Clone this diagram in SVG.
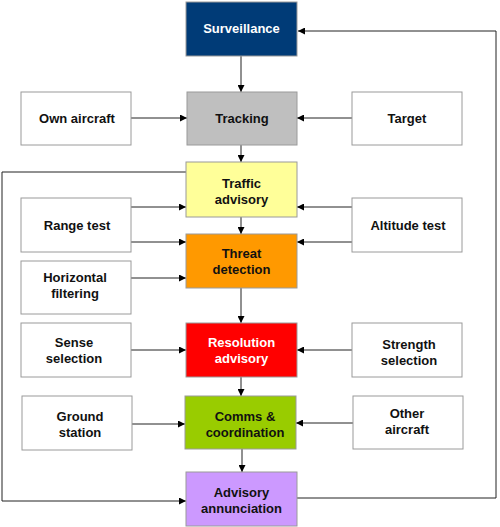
<svg xmlns="http://www.w3.org/2000/svg" width="500" height="527" viewBox="0 0 500 527">
<defs>
<marker id="ah" viewBox="0 0 10 10" refX="10" refY="5" markerWidth="7" markerHeight="7" markerUnits="userSpaceOnUse" orient="auto">
<path d="M0,0 L10,5 L0,10 z" fill="#000"/>
</marker>
<style>
.box{stroke:#9a9a9a;stroke-width:1}
.wb{fill:#fff}
.t{font-family:"Liberation Sans",Arial,sans-serif;font-weight:bold;font-size:13px;text-anchor:middle;fill:#111}
.w{fill:#fff}
.c{fill:none;stroke:#222;stroke-width:1;marker-end:url(#ah)}
.l{fill:none;stroke:#222;stroke-width:1}
</style>
</defs>
<rect width="500" height="527" fill="#fff"/>
<g id="connectors">
<path class="c" d="M241,56 V92"/>
<path class="c" d="M241,145 V162"/>
<path class="c" d="M131,118 H187"/>
<path class="c" d="M352,118 H297"/>
<path class="c" d="M131,207 H186"/>
<path class="c" d="M131,242 H186"/>
<path class="c" d="M352,207 H297"/>
<path class="c" d="M352,242 H297"/>
<path class="c" d="M241,217 V234"/>
<path class="c" d="M131,278 H186"/>
<path class="c" d="M241,288 V323"/>
<path class="c" d="M131,350 H186"/>
<path class="c" d="M352,350 H297"/>
<path class="c" d="M241,377 V396"/>
<path class="c" d="M132,424 H185"/>
<path class="c" d="M353,423 H296"/>
<path class="c" d="M242,449 V472"/>
<path class="c" d="M297,498 H496 V31 H298"/>
<path class="c" d="M186,172 H2 V501 H186"/>
</g>
<g id="surveillance"><rect class="box" x="186" y="2" width="111" height="54" fill="#003B77" stroke="#2a4f80"/><text class="t w" x="241.5" y="33">Surveillance</text></g>
<g id="tracking"><rect class="box" x="187" y="92" width="110" height="53" fill="#BFBFBF" stroke="#cfcfcf"/><text class="t" x="242" y="123">Tracking</text></g>
<g id="own-aircraft"><rect class="box wb" x="21" y="92" width="110" height="53"/><text class="t" x="77" y="123">Own aircraft</text></g>
<g id="target"><rect class="box wb" x="352" y="92" width="110" height="53"/><text class="t" x="407" y="123">Target</text></g>
<g id="traffic-advisory"><rect class="box" x="186" y="162" width="111" height="55" fill="#FFFF99" stroke="#f0f0a0"/><text class="t" x="241.5" y="188">Traffic</text><text class="t" x="241.5" y="204">advisory</text></g>
<g id="range-test"><rect class="box wb" x="21" y="198" width="110" height="54"/><text class="t" x="77" y="230">Range test</text></g>
<g id="altitude-test"><rect class="box wb" x="352" y="198" width="110" height="54"/><text class="t" x="408" y="230">Altitude test</text></g>
<g id="threat-detection"><rect class="box" x="186" y="234" width="111" height="54" fill="#FF9900" stroke="#f5b050"/><text class="t" x="241.5" y="258">Threat</text><text class="t" x="241.5" y="274">detection</text></g>
<g id="horizontal-filtering"><rect class="box wb" x="21" y="261" width="110" height="53"/><text class="t" x="75" y="282">Horizontal</text><text class="t" x="75" y="298">filtering</text></g>
<g id="resolution-advisory"><rect class="box" x="186" y="323" width="111" height="54" fill="#FF0000" stroke="#f05050"/><text class="t w" x="241.5" y="347">Resolution</text><text class="t w" x="241.5" y="363">advisory</text></g>
<g id="sense-selection"><rect class="box wb" x="21" y="323" width="110" height="54"/><text class="t" x="74" y="347">Sense</text><text class="t" x="74" y="363">selection</text></g>
<g id="strength-selection"><rect class="box wb" x="352" y="323" width="110" height="54"/><text class="t" x="409" y="349">Strength</text><text class="t" x="409" y="365">selection</text></g>
<g id="comms-coordination"><rect class="box" x="185" y="396" width="111" height="53" fill="#99CC00" stroke="#b0d050"/><text class="t" x="245" y="421">Comms &amp;</text><text class="t" x="245" y="437">coordination</text></g>
<g id="ground-station"><rect class="box wb" x="22" y="396" width="110" height="54"/><text class="t" x="80" y="421">Ground</text><text class="t" x="80" y="437">station</text></g>
<g id="other-aircraft"><rect class="box wb" x="353" y="396" width="110" height="53"/><text class="t" x="407" y="418">Other</text><text class="t" x="407" y="434">aircraft</text></g>
<g id="advisory-annunciation"><rect class="box" x="186" y="472" width="111" height="54" fill="#CC99FF" stroke="#d8b0ff"/><text class="t" x="241.5" y="497">Advisory</text><text class="t" x="241.5" y="513">annunciation</text></g>
</svg>
